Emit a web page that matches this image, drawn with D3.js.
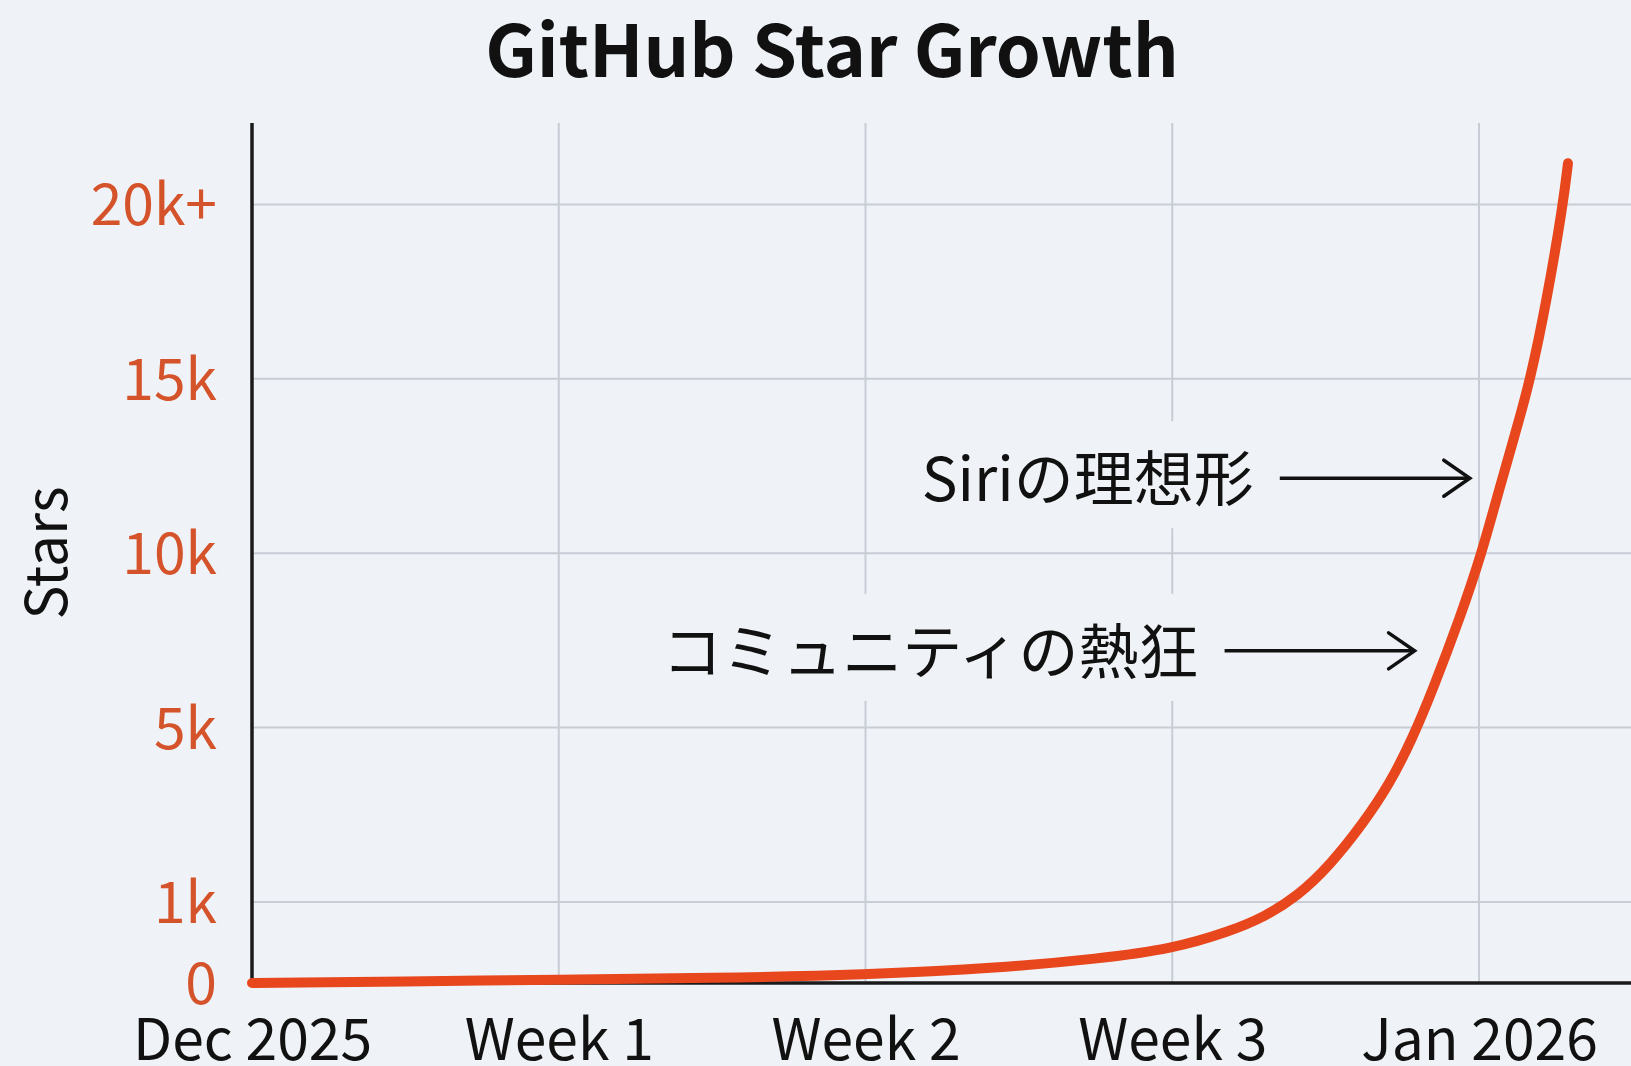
<!DOCTYPE html>
<html>
<head>
<meta charset="utf-8">
<script src="https://cdn.jsdelivr.net/npm/d3@7"></script>
<style>
  html, body { margin: 0; padding: 0; background: #eff3f7; }
  svg { display: block; }
  text { font-family: "Noto Sans CJK JP", "Noto Sans", sans-serif; }
</style>
</head>
<body>
<svg id="chart" width="1631" height="1066"></svg>
<script>
// ---- data ----
const title = "GitHub Star Growth";
const yAxisTitle = "Stars";
const xTickPos = [0, 1, 2, 3, 4];
const xTickLabels = ["Dec 2025", "Week 1", "Week 2", "Week 3", "Jan 2026"];
const yTickValues = [0, 1000, 5000, 10000, 15000, 20000];
const yTickLabels = ["0", "1k", "5k", "10k", "15k", "20k+"];
// position along time axis (in weeks from Dec 2025) and star count
const weeks = [0, 0.5, 1, 1.5, 2, 2.44, 2.76, 3.0, 3.19, 3.30, 3.41, 3.515, 3.62, 3.71, 3.785, 3.85, 3.94, 4.007, 4.068, 4.117, 4.166, 4.222, 4.274, 4.29];
const stars = [0, 20, 40, 60, 100, 185, 300, 420, 640, 815, 1140, 1850, 2780, 3720, 4780, 6100, 8200, 9940, 11900, 13400, 14920, 17300, 20000, 21180];
const annLabels = ["Siriの理想形", "コミュニティの熱狂"];
const annStars = [12150, 7200];
const annTipWeeks = [3.97, 3.79];

// ---- layout ----
const W = 1631, H = 1066;
const plotLeft = 252, plotRight = W, plotTop = 123, plotBottom = 983;
const firstStep = 81, step = 174.4; // y-axis tick spacing (non-uniform scale)
const tickColor = "#d5532a";
const lineColor = "#e8461d";

const svg = d3.select("#chart");
svg.append("rect").attr("width", W).attr("height", H).attr("fill", "#eff3f7");

const x = d3.scaleLinear().domain([0, 4]).range([plotLeft, plotLeft + 4 * 306.75]);
const yRange = yTickValues.map((v, i) => i === 0 ? plotBottom : plotBottom - firstStep - (i - 1) * step);
const y = d3.scaleLinear().domain(yTickValues).range(yRange);

// grid
const grid = svg.append("g");
grid.selectAll("line.h").data(yTickValues.slice(1)).join("line")
  .attr("x1", plotLeft).attr("x2", plotRight)
  .attr("y1", d => y(d)).attr("y2", d => y(d))
  .attr("stroke", "#c7ccd5").attr("stroke-width", 2);
grid.selectAll("line.v").data(xTickPos.slice(1)).join("line")
  .attr("x1", d => x(d)).attr("x2", d => x(d))
  .attr("y1", plotTop).attr("y2", plotBottom)
  .attr("stroke", "#c7ccd5").attr("stroke-width", 2);

// annotation backgrounds + text
const ann = svg.append("g");
annLabels.forEach((lab, i) => {
  const tipX = x(annTipWeeks[i]);
  const yy = y(annStars[i]);
  const arrowLen = 190, gap = 26;
  const textEnd = tipX - arrowLen - gap;
  const bg = ann.append("rect").attr("fill", "#eff3f7");
  const t = ann.append("text")
    .attr("x", textEnd).attr("y", yy + 23)
    .attr("text-anchor", "end")
    .attr("font-size", 60).attr("fill", "#111")
    .text(lab);
  const bb = t.node().getBBox();
  bg.attr("x", bb.x - 12).attr("y", bb.y - 10).attr("width", bb.width + 24).attr("height", bb.height + 20);
  ann.append("line")
    .attr("x1", tipX - arrowLen).attr("x2", tipX - 1)
    .attr("y1", yy).attr("y2", yy)
    .attr("stroke", "#111").attr("stroke-width", 3.5);
  ann.append("path")
    .attr("d", `M${tipX - 26},${yy - 18} L${tipX},${yy} L${tipX - 26},${yy + 18}`)
    .attr("fill", "none").attr("stroke", "#111").attr("stroke-width", 3.5)
    .attr("stroke-linecap", "round").attr("stroke-linejoin", "miter");
});

// axes lines
svg.append("line").attr("x1", plotLeft).attr("x2", plotLeft)
  .attr("y1", plotTop).attr("y2", plotBottom + 1.5)
  .attr("stroke", "#1a1a1a").attr("stroke-width", 3.5);
svg.append("line").attr("x1", plotLeft).attr("x2", plotRight)
  .attr("y1", plotBottom).attr("y2", plotBottom)
  .attr("stroke", "#1a1a1a").attr("stroke-width", 3.5);

// y axis ticks labels
const yAxis = d3.axisLeft(y).tickValues(yTickValues)
  .tickFormat((d, i) => yTickLabels[i]).tickSize(0).tickPadding(0);
const gy = svg.append("g").attr("transform", `translate(${plotLeft - 35},0)`).call(yAxis);
gy.select(".domain").remove();
gy.selectAll("text").attr("font-size", 57).attr("fill", tickColor)
  .attr("font-family", "Noto Sans CJK JP").attr("dy", "0.36em");

// x axis labels
const xAxis = d3.axisBottom(x).tickValues(xTickPos)
  .tickFormat((d, i) => xTickLabels[i]).tickSize(0).tickPadding(0);
const gx = svg.append("g").attr("transform", `translate(0,${plotBottom})`).call(xAxis);
gx.select(".domain").remove();
gx.selectAll("text").attr("font-size", 57).attr("fill", "#111")
  .attr("font-family", "Noto Sans CJK JP").attr("dy", null).attr("y", 77);

// line
const pts = weeks.map((w, i) => [w, stars[i]]);
const lineGen = d3.line().x(d => x(d[0])).y(d => y(d[1])).curve(d3.curveBasis);
svg.append("path").datum(pts)
  .attr("d", lineGen)
  .attr("fill", "none").attr("stroke", lineColor)
  .attr("stroke-width", 10).attr("stroke-linecap", "round").attr("stroke-linejoin", "round");

// titles
svg.append("text").attr("x", 832).attr("y", 77)
  .attr("text-anchor", "middle").attr("font-size", 72).attr("font-weight", 700)
  .attr("fill", "#111").text(title);
svg.append("text").attr("transform", `translate(67,553) rotate(-90)`)
  .attr("text-anchor", "middle").attr("font-size", 57).attr("fill", "#111")
  .text(yAxisTitle);
</script>
</body>
</html>
